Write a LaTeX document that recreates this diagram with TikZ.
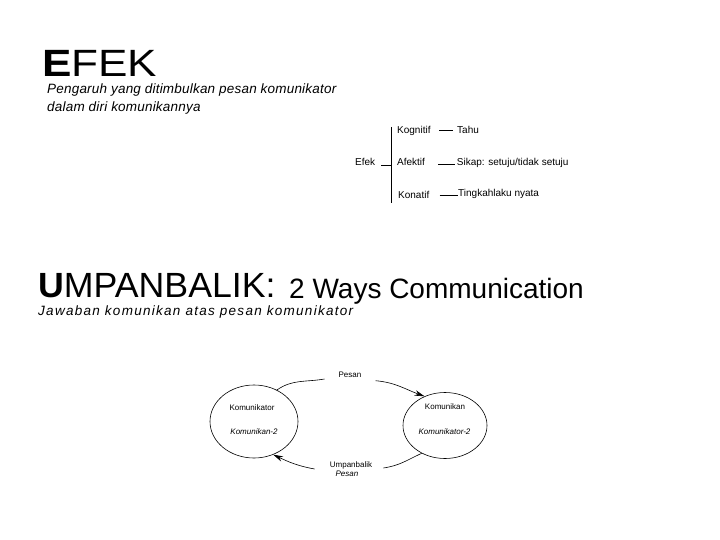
\documentclass[tikz,border=0pt]{standalone}
\usepackage{fontspec}
\usepackage{graphicx}
\setmainfont{Liberation Sans}
\usetikzlibrary{shapes.geometric,arrows.meta,calc}
\begin{document}
\begin{tikzpicture}[x=1pt,y=1pt,
  txt/.style={inner sep=0pt, anchor=base west},
  lst/.style={txt, font=\fontsize{10}{12}\selectfont},
  sm/.style={inner sep=0pt, font=\fontsize{8}{10}\selectfont},
  smi/.style={inner sep=0pt, font=\itshape\fontsize{8}{10}\selectfont},
  ell/.style={draw, ellipse, inner sep=0pt, line width=0.6pt},
  conn/.style={line width=0.6pt},
  arr/.style={conn, -{Stealth[length=10pt,width=5.5pt]}}]
\useasboundingbox (0,0) rectangle (720,-540);

% EFEK section
\node[txt, font=\fontsize{38}{40}\selectfont] (efek) at (42,-77) {\scalebox{1.16}[1]{\textbf{E}FEK}};
\node[txt, font=\itshape\fontsize{13.5}{16}\selectfont\addfontfeature{LetterSpace=1.5}] (sub1) at (47,-94) {Pengaruh yang ditimbulkan pesan komunikator};
\node[txt, font=\itshape\fontsize{13.5}{16}\selectfont\addfontfeature{LetterSpace=1.5}] (sub2) at (47,-112) {dalam diri komunikannya};

\node[lst] (efk) at (355,-165.7) {Efek};
\node[lst] (kog) at (397,-134) {Kognitif};
\node[lst] (tahu) at (457,-134) {Tahu};
\node[lst] (afe) at (397,-165.7) {Afektif};
\node[lst] (sik) at (456.7,-165.7) {Sikap: setuju/tidak setuju};
\node[lst] (kon) at (398,-198.3) {Konatif};
\node[lst] (tin) at (458,-196.7) {Tingkahlaku nyata};
\coordinate (vtop) at (391.7,-127);
\coordinate (vbot) at (391.7,-203);
\draw[conn] (vtop) -- (vbot);
\coordinate (efkend) at ($(efk.base east)+(6,0.7)$);
\draw[conn] (efkend) -- (efkend -| vtop);
\draw[conn] ($(kog.base east)+(8.6,3.3)$) -- ($(tahu.base west)+(-4,3.3)$);
\draw[conn] ($(afe.base east)+(13.2,1.4)$) -- ($(sik.base west)+(-1.7,1.4)$);
\draw[conn] ($(kon.base east)+(10,2.6)$) -- ($(tin.base west)+(-0.5,1)$);

% UMPANBALIK section
\node[txt, font=\fontsize{35}{37}\selectfont] (umb) at (38,-297.3) {\scalebox{1.02}[1]{\textbf{U}MPANBALIK:}};
\node[txt, font=\fontsize{28}{30}\selectfont] (ways) at (289,-298.3) {2 Ways Communication};
\node[txt, font=\itshape\fontsize{13.5}{15}\selectfont\addfontfeature{LetterSpace=9.5}] (jaw) at (38,-315) {Jawaban komunikan atas pesan komunikator};

\node[ell, minimum width=88pt, minimum height=73pt] (kl) at (254,-421.5) {};
\node[ell, minimum width=84pt, minimum height=66pt] (kr) at (445,-425.5) {};
\node[sm] (kl1) at (252,-408) {Komunikator};
\node[smi] (kl2) at (254,-432) {Komunikan-2};
\node[sm] (kr1) at (445,-407) {Komunikan};
\node[smi] (kr2) at (444.5,-432) {Komunikator-2};
\node[sm] (pes) at (350,-375) {Pesan};
\node[sm] (ub) at (351,-465) {Umpanbalik};
\node[smi] (ub2) at (347,-474) {Pesan};

\draw[conn] (kl.54) to[out=35,in=190] ($(pes.west)+(-14,-4)$);
\draw[arr] ($(pes.east)+(14,-5.7)$) to[out=-5,in=160] (kr.125);
\draw[conn] (kr.230) to[out=205,in=8] ($(ub.east)+(11,-3)$);
\draw[arr] ($(ub.west)+(-15,-4)$) to[out=170,in=-25] (kl.-60);
\end{tikzpicture}
\end{document}
